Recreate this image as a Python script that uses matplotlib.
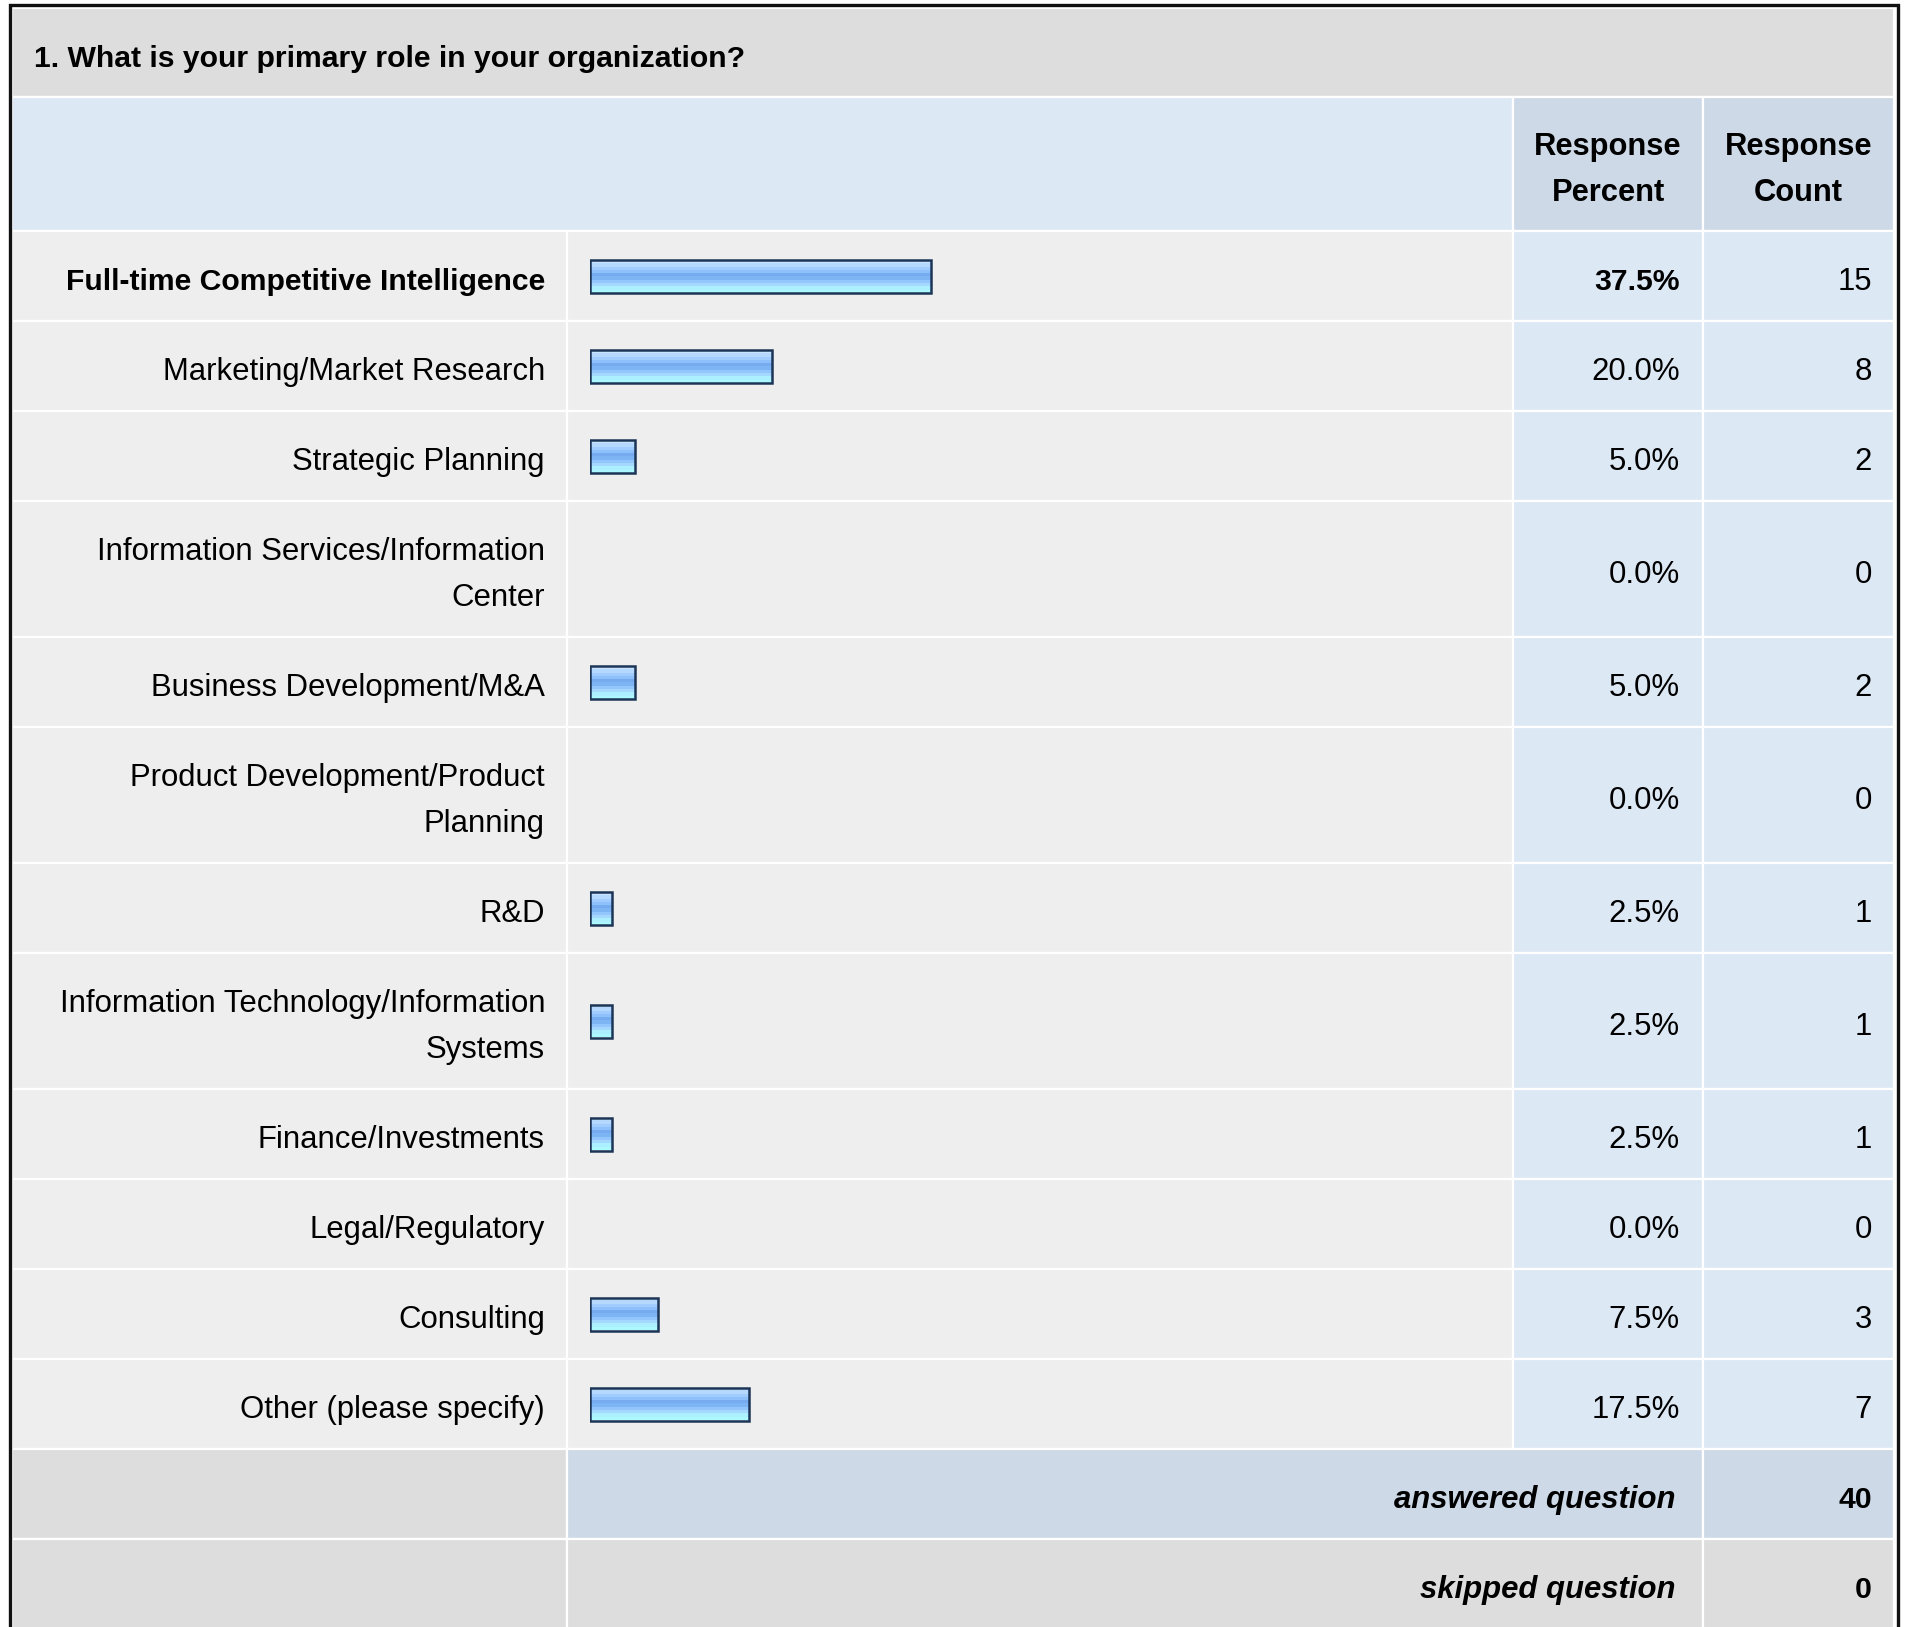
import matplotlib
matplotlib.use("Agg")
import matplotlib.pyplot as plt
import numpy as np
from matplotlib.patches import Rectangle
from matplotlib.colors import ListedColormap

plt.rcParams['font.family'] = ['Liberation Sans', 'DejaVu Sans']

## data
question = "1. What is your primary role in your organization?"
categories = [
    "Full-time Competitive Intelligence",
    "Marketing/Market Research",
    "Strategic Planning",
    "Information Services/Information\nCenter",
    "Business Development/M&A",
    "Product Development/Product\nPlanning",
    "R&D",
    "Information Technology/Information\nSystems",
    "Finance/Investments",
    "Legal/Regulatory",
    "Consulting",
    "Other (please specify)",
]
percents = [37.5, 20.0, 5.0, 0.0, 5.0, 0.0, 2.5, 2.5, 2.5, 0.0, 7.5, 17.5]
counts = [15, 8, 2, 0, 2, 0, 1, 1, 1, 0, 3, 7]
answered = 40
skipped = 0

## colours
GRAY = '#dddddd'
CELL = '#eeeeee'
BLUE = '#dde8f5'
BLUE2 = '#cdd9e6'
stripes = ['#c9e3ff', '#b5d8ff', '#a0ccff', '#8ec1fb', '#76abf0',
           '#7db4f4', '#92c6fc', '#a4d8ff', '#acf0ff', '#acf8ff']

W, H = 1909, 1627
FS = 22.4      # regular text
FS_B = 21.7    # bold text
fig = plt.figure(figsize=(W / 100, H / 100), dpi=100)
ax = fig.add_axes([0, 0, 1, 1])
ax.set_xlim(0, W)
ax.set_ylim(H, 0)
ax.axis('off')

# column edges (px)
x0, x1, x2, x3, x4 = 12, 567, 1513, 1703, 1894
LINE = 46


def cell(xa, xb, ya, yb, color):
    ax.add_patch(Rectangle((xa, ya), xb - xa, yb - ya, facecolor=color,
                           edgecolor='white', linewidth=1.6))


def txt(x, yc, s, ha='right', fs=FS, **kw):
    lines = s.split('\n')
    n = len(lines)
    for k, line in enumerate(lines):
        yb = yc + 14 + (k - (n - 1) / 2) * LINE
        ax.text(x, yb, line, ha=ha, va='baseline', fontsize=fs,
                color='black', **kw)


# title row
cell(x0, x4, 8, 97, GRAY)
txt(34, 53, question, ha='left', fs=FS_B, fontweight='bold')

# header row
cell(x0, x2, 97, 231, BLUE)
cell(x2, x3, 97, 231, BLUE2)
cell(x3, x4, 97, 231, BLUE2)
txt((x2 + x3) / 2, 164, "Response\nPercent", ha='center', fs=22.2, fontweight='bold')
txt((x3 + x4) / 2, 164, "Response\nCount", ha='center', fs=22.2, fontweight='bold')

# body rows
y = 231
centers = []
for i, cat in enumerate(categories):
    h = 136 if '\n' in cat else 90
    cell(x0, x1, y, y + h, CELL)
    cell(x1, x2, y, y + h, CELL)
    cell(x2, x3, y, y + h, BLUE)
    cell(x3, x4, y, y + h, BLUE)
    yc = y + h / 2
    centers.append(yc)
    if i == 0:
        txt(545, yc, cat, fs=FS_B, fontweight='bold')
        txt(1680, yc, f"{percents[i]:.1f}%", fs=FS_B, fontweight='bold')
    else:
        txt(545, yc, cat)
        txt(1680, yc, f"{percents[i]:.1f}%")
    txt(1872, yc, str(counts[i]))
    y += h

# footer rows
cell(x0, x1, y, y + 90, GRAY)
cell(x1, x3, y, y + 90, BLUE2)
cell(x3, x4, y, y + 90, BLUE2)
txt(1676, y + 45, "answered question", fontweight='bold', fontstyle='italic')
txt(1872, y + 45, str(answered), fs=FS_B, fontweight='bold')
y += 90
cell(x0, x1, y, y + 90, GRAY)
cell(x1, x3, y, y + 90, GRAY)
cell(x3, x4, y, y + 90, GRAY)
txt(1676, y + 45, "skipped question", fontweight='bold', fontstyle='italic')
txt(1872, y + 45, str(skipped), fs=FS_B, fontweight='bold')

# outer border
ax.plot([9.5, 9.5, 1897.5, 1897.5], [H, 5, 5, H], color='#111111',
        linewidth=2.4, solid_joinstyle='miter')

## bars
bx = fig.add_axes([589.5 / W, 0, 910 / W, 1])
bx.set_xlim(0, 100)
bx.set_ylim(H, 0)
bx.axis('off')
bx.patch.set_alpha(0)
bh = 33
edge = ['#1c3557' if p > 0 else 'none' for p in percents]
bars = bx.barh(centers, percents, height=bh, color='none',
               edgecolor=edge, linewidth=1.8, zorder=3)
cmap = ListedColormap(stripes)
grad = np.linspace(0, 1, len(stripes)).reshape(-1, 1)
for b, p, yc in zip(bars, percents, centers):
    if p <= 0:
        continue
    im = bx.imshow(grad, cmap=cmap, aspect='auto', interpolation='nearest',
                   extent=[0, p, yc + bh / 2, yc - bh / 2], zorder=2)
    im.set_clip_path(b)
bx.set_xlim(0, 100)
bx.set_ylim(H, 0)

fig.savefig('out.png', dpi=100)
